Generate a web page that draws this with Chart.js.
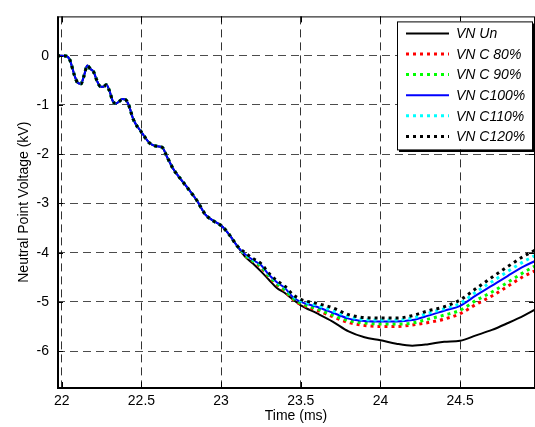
<!DOCTYPE html>
<html>
<head>
<meta charset="utf-8">
<script src="https://cdn.jsdelivr.net/npm/chart.js@4/dist/chart.umd.min.js"></script>
<style>
  html, body { margin: 0; padding: 0; background: #fff; }
  #wrap { width: 535px; height: 427px; }
</style>
</head>
<body>
<div id="wrap"><canvas id="chart" width="535" height="427"></canvas></div>
<script>
// time axis (ms)
const time = [21.97, 22.0, 22.03, 22.05, 22.08, 22.1, 22.12, 22.14, 22.16, 22.18,
  22.2, 22.22, 22.24, 22.26, 22.28, 22.3, 22.32, 22.34, 22.36, 22.38,
  22.4, 22.42, 22.45, 22.5, 22.55, 22.6, 22.63, 22.66, 22.7, 22.75,
  22.8, 22.85, 22.9, 22.95, 23.0, 23.05, 23.1,
  23.15, 23.2, 23.25, 23.3, 23.35, 23.4, 23.45, 23.5, 23.6, 23.7,
  23.8, 23.9, 24.0, 24.1, 24.2, 24.3, 24.4, 24.5, 24.6, 24.7, 24.8, 24.9, 24.97];

// all curves overlap up to ~23.1 ms
const common = [0, 0, -0.01, -0.08, -0.4, -0.55, -0.57, -0.4, -0.2, -0.27,
  -0.33, -0.5, -0.62, -0.63, -0.59, -0.72, -0.92, -0.97, -0.93, -0.88,
  -0.89, -1.0, -1.3, -1.55, -1.77, -1.84, -1.86, -2.05, -2.3, -2.52,
  -2.73, -2.95, -3.22, -3.35, -3.45, -3.63, -3.86];

const vnUn = common.concat([-4.08, -4.22, -4.38, -4.55, -4.72, -4.82, -4.95, -5.07, -5.23, -5.4,
  -5.6, -5.72, -5.78, -5.85, -5.89, -5.86, -5.81, -5.79, -5.68, -5.57, -5.43, -5.28, -5.16]);
const vnC80 = common.concat([-4.06, -4.18, -4.3, -4.5, -4.65, -4.78, -4.95, -5.05, -5.17, -5.3,
  -5.42, -5.48, -5.5, -5.5, -5.47, -5.42, -5.35, -5.24, -5.05, -4.88, -4.68, -4.48, -4.37]);
const vnC90 = common.concat([-4.05, -4.17, -4.28, -4.48, -4.63, -4.76, -4.93, -5.03, -5.14, -5.27,
  -5.38, -5.43, -5.45, -5.45, -5.43, -5.35, -5.27, -5.17, -4.97, -4.8, -4.6, -4.4, -4.27]);
const vnC100 = common.concat([-4.03, -4.15, -4.25, -4.45, -4.6, -4.72, -4.9, -5.0, -5.1, -5.22,
  -5.34, -5.39, -5.4, -5.4, -5.37, -5.28, -5.18, -5.08, -4.87, -4.67, -4.47, -4.28, -4.17]);
const vnC110 = common.concat([-4.02, -4.14, -4.24, -4.44, -4.59, -4.7, -4.88, -4.98, -5.07, -5.18,
  -5.3, -5.36, -5.37, -5.37, -5.33, -5.23, -5.14, -5.03, -4.8, -4.59, -4.38, -4.18, -4.06]);
const vnC120 = common.concat([-4.0, -4.12, -4.22, -4.42, -4.57, -4.68, -4.85, -4.95, -5.03, -5.12,
  -5.26, -5.32, -5.33, -5.33, -5.28, -5.18, -5.1, -4.96, -4.73, -4.5, -4.28, -4.07, -3.95]);

const seriesLabels = ['VN Un', 'VN C 80%', 'VN C 90%', 'VN C100%', 'VN C110%', 'VN C120%'];
const xTicks = [22, 22.5, 23, 23.5, 24, 24.5];
const yTicks = [-6, -5, -4, -3, -2, -1, 0];

const FONT = 'Arial, "Liberation Sans", Helvetica, sans-serif';

function toPoints(values) {
    return values.map(function (v, i) { return { x: time[i], y: v }; });
}

function makeSet(label, values, color, dotted, order) {
    return {
        label: label,
        data: toPoints(values),
        borderColor: color,
        borderWidth: dotted ? 3 : 2,
        borderDash: dotted ? [3, 4] : [],
        borderCapStyle: 'butt',
        pointRadius: 0,
        cubicInterpolationMode: 'monotone',
        fill: false,
        order: order
    };
}

// axes box, inward tick marks and the boxed legend
const framePlugin = {
    id: 'frame',
    afterDatasetsDraw: function (chart) {
        const ctx = chart.ctx;
        const a = chart.chartArea;
        const xs = chart.scales.x;
        const ys = chart.scales.y;
        ctx.save();
        ctx.strokeStyle = '#000';
        ctx.lineWidth = 1;
        ctx.strokeRect(a.left + 0.5, a.top + 0.5, a.right - a.left - 1, a.bottom - a.top);
        ctx.lineWidth = 2;
        ctx.beginPath();
        ctx.moveTo(a.left + 1, a.top);
        ctx.lineTo(a.left + 1, a.bottom);
        ctx.lineTo(a.right, a.bottom);
        ctx.stroke();
        ctx.lineWidth = 1;
        ctx.beginPath();
        xTicks.forEach(function (v) {
            const px = Math.round(xs.getPixelForValue(v)) + 0.5;
            ctx.moveTo(px, a.bottom); ctx.lineTo(px, a.bottom - 6);
            ctx.moveTo(px, a.top); ctx.lineTo(px, a.top + 6);
        });
        yTicks.forEach(function (v) {
            const py = Math.round(ys.getPixelForValue(v)) + 0.5;
            ctx.moveTo(a.left, py); ctx.lineTo(a.left + 6, py);
            ctx.moveTo(a.right, py); ctx.lineTo(a.right - 6, py);
        });
        ctx.stroke();

        // legend
        const bx = a.right - 138, by = a.top + 5, bw = 135, bh = 128;
        ctx.fillStyle = '#fff';
        ctx.fillRect(bx, by, bw, bh);
        ctx.strokeStyle = '#000';
        ctx.lineWidth = 1;
        ctx.strokeRect(bx + 0.5, by + 0.5, bw, bh);
        ctx.lineWidth = 2;
        ctx.beginPath();
        ctx.moveTo(bx + bw + 1.5, by + 2);
        ctx.lineTo(bx + bw + 1.5, by + bh + 1.5);
        ctx.lineTo(bx + 2, by + bh + 1.5);
        ctx.stroke();
        ctx.font = 'italic 14px ' + FONT;
        ctx.textBaseline = 'middle';
        ctx.textAlign = 'left';
        chart.data.datasets.forEach(function (ds, i) {
            const yy = by + 12 + i * 20.6;
            ctx.strokeStyle = ds.borderColor;
            ctx.lineWidth = ds.borderDash.length ? 3 : 2;
            ctx.setLineDash(ds.borderDash);
            ctx.beginPath();
            ctx.moveTo(bx + 9, yy);
            ctx.lineTo(bx + 52, yy);
            ctx.stroke();
            ctx.setLineDash([]);
            ctx.fillStyle = '#000';
            ctx.fillText(ds.label, bx + 59, yy + 1);
        });
        ctx.restore();
    }
};

const bgPlugin = {
    id: 'bg',
    beforeDraw: function (chart) {
        const ctx = chart.ctx;
        ctx.save();
        ctx.fillStyle = '#fff';
        ctx.fillRect(0, 0, chart.width, chart.height);
        ctx.restore();
    }
};

const ctx = document.getElementById('chart').getContext('2d');

new Chart(ctx, {
    type: 'line',
    data: {
        datasets: [
            makeSet(seriesLabels[0], vnUn, '#000000', false, 6),
            makeSet(seriesLabels[1], vnC80, '#ff0000', true, 5),
            makeSet(seriesLabels[2], vnC90, '#00ff00', true, 4),
            makeSet(seriesLabels[3], vnC100, '#0000ff', false, 3),
            makeSet(seriesLabels[4], vnC110, '#00ffff', true, 2),
            makeSet(seriesLabels[5], vnC120, '#000000', true, 1)
        ]
    },
    options: {
        responsive: false,
        animation: false,
        devicePixelRatio: 1,
        layout: { padding: { top: 10, right: 0, left: 0, bottom: 0 } },
        plugins: {
            legend: { display: false },
            tooltip: { enabled: false }
        },
        scales: {
            x: {
                type: 'linear',
                min: 21.97,
                max: 24.97,
                afterBuildTicks: function (scale) {
                    scale.ticks = xTicks.map(function (v) { return { value: v }; });
                },
                afterFit: function (scale) { scale.height = 39; },
                ticks: {
                    autoSkip: false,
                    maxRotation: 0,
                    padding: 5,
                    color: '#000',
                    font: { family: FONT, size: 14 },
                    callback: function (v) { return String(v); }
                },
                grid: {
                    color: 'rgba(0,0,0,0.8)',
                    lineWidth: 1,
                    drawTicks: false,
                    tickBorderDash: [8, 5]
                },
                border: { display: false, dash: [8, 5] },
                title: {
                    display: true,
                    text: 'Time (ms)',
                    color: '#000',
                    font: { family: FONT, size: 14 },
                    padding: { top: 0, bottom: 2 }
                }
            },
            y: {
                type: 'linear',
                min: -6.75,
                max: 0.8,
                afterBuildTicks: function (scale) {
                    scale.ticks = yTicks.map(function (v) { return { value: v }; });
                },
                afterFit: function (scale) { scale.width = 57; },
                ticks: {
                    autoSkip: false,
                    padding: 8,
                    color: '#000',
                    font: { family: FONT, size: 14 },
                    callback: function (v) { return String(v); }
                },
                grid: {
                    color: 'rgba(0,0,0,0.7)',
                    lineWidth: 1,
                    drawTicks: false
                },
                border: { display: false, dash: [8, 5] },
                title: {
                    display: true,
                    text: 'Neutral Point Voltage (kV)',
                    color: '#000',
                    font: { family: FONT, size: 14 },
                    padding: { top: 16, bottom: 0 }
                }
            }
        }
    },
    plugins: [bgPlugin, framePlugin]
});
</script>
</body>
</html>
